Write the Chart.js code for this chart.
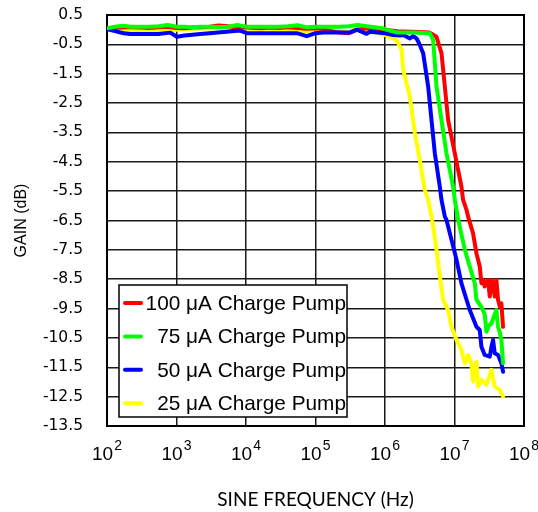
<!DOCTYPE html>
<html>
<head>
<meta charset="utf-8">
<script src="https://cdn.jsdelivr.net/npm/chart.js@4.4.1/dist/chart.umd.min.js"></script>
<style>
html,body{margin:0;padding:0;background:#fff;}
#wrap{width:538px;height:512px;position:relative;}
</style>
</head>
<body>
<div id="wrap"><canvas id="c" width="538" height="512"></canvas></div>
<script>
// ---- data ----
const seriesLabels = ['100 \u03BCA Charge Pump', '75 \u03BCA Charge Pump', '50 \u03BCA Charge Pump', '25 \u03BCA Charge Pump'];
const seriesColors = ['#ff0000', '#00ff00', '#0000ff', '#ffff00'];

const xTickExponents = [2, 3, 4, 5, 6, 7, 8];
const yTickValues = [0.5, -0.5, -1.5, -2.5, -3.5, -4.5, -5.5, -6.5, -7.5, -8.5, -9.5, -10.5, -11.5, -12.5, -13.5];

const freq100 = [100,130,170,220,300,400,550,750,1000,1300,1700,2200,3000,4000,5500,7500,1e4,1.3e4,1.7e4,2.2e4,3e4,4e4,5.5e4,7.5e4,1e5,1.3e5,1.7e5,2.2e5,3e5,4e5,5.5e5,
  8e5,1.5e6,3e6,4.4e6,5.5e6,6.5e6,7.26e6,8.1e6,1.01e7,1.26e7,1.33e7,1.49e7,1.57e7,1.85e7,2.07e7,2.31e7,2.44e7,2.58e7,2.72e7,2.88e7,3.04e7,3.22e7,3.4e7,3.59e7,3.79e7,4.01e7,4.23e7,4.48e7,4.73e7,4.99e7];
const gain100 = [0.02,0.06,0.08,0.08,0.07,0.06,0.08,0.1,0.06,0.05,0.07,0.08,0.1,0.14,0.12,0.06,0.08,0.06,0.05,0.07,0.06,0.08,0.06,0.03,0.05,0.02,-0.05,-0.1,-0.12,0.0,0.05,
  0.02,-0.05,-0.08,-0.1,-0.24,-0.8,-1.94,-3.08,-4.21,-5.35,-5.8,-6.14,-6.37,-6.94,-7.62,-8.07,-8.64,-8.53,-8.75,-8.6,-8.53,-9.09,-8.53,-8.6,-9.09,-8.53,-9.2,-9.44,-9.32,-10.12];

const freq75 = [100,130,170,220,300,400,550,750,1000,1300,1700,2200,3000,4000,5500,7500,1e4,1.3e4,1.7e4,2.2e4,3e4,4e4,5.5e4,7.5e4,1e5,1.3e5,1.7e5,2.2e5,3e5,4e5,5.5e5,
  9e5,1.5e6,2.5e6,4.4e6,4.93e6,5.51e6,6.5e6,7.67e6,9.55e6,1.01e7,1.13e7,1.41e7,1.66e7,1.96e7,2.07e7,2.44e7,2.72e7,2.88e7,3.1e7,3.4e7,3.79e7,4.01e7,4.23e7,4.48e7,4.73e7,4.99e7];
const gain75 = [0.05,0.1,0.13,0.1,0.1,0.1,0.12,0.16,0.1,0.1,0.08,0.1,0.1,0.09,0.1,0.16,0.1,0.1,0.1,0.1,0.1,0.12,0.15,0.08,0.1,0.1,0.1,0.1,0.12,0.16,0.12,
  0.05,-0.1,-0.1,-0.12,-0.35,-1.94,-3.08,-4.21,-5.35,-5.8,-6.48,-7.5,-8.07,-8.64,-9.2,-9.44,-9.7,-10.29,-10.1,-10.0,-9.7,-9.55,-10.12,-10.3,-10.57,-11.36];

const freq50 = [100,130,174,216,300,400,550,813,1014,1300,1700,2200,3000,4730,8220,1.03e4,1.5e4,2.2e4,3.5e4,5.37e4,7.48e4,1e5,1.3e5,2e5,3.13e5,3.91e5,5.44e5,6.07e5,
  1e6,1.31e6,1.64e6,1.83e6,2.05e6,2.28e6,2.54e6,2.85e6,3.17e6,3.54e6,4.18e6,4.67e6,5.21e6,6.15e6,6.5e6,7.26e6,7.67e6,9.06e6,1.07e7,1.26e7,1.49e7,1.66e7,2.07e7,2.31e7,2.44e7,2.72e7,3.22e7,3.4e7,3.59e7,3.79e7,4.23e7,4.73e7,4.99e7];
const gain50 = [0.02,-0.05,-0.12,-0.15,-0.15,-0.15,-0.15,-0.1,-0.24,-0.2,-0.17,-0.15,-0.12,-0.08,-0.03,-0.12,-0.12,-0.12,-0.12,-0.12,-0.22,-0.12,-0.1,-0.1,-0.1,0.0,-0.14,-0.07,
  -0.12,-0.18,-0.2,-0.18,-0.24,-0.3,-0.22,-0.3,-0.52,-0.8,-1.94,-3.08,-4.21,-5.35,-5.8,-6.37,-6.48,-7.16,-7.84,-8.64,-9.2,-9.55,-10.12,-10.23,-10.8,-11.08,-11.14,-10.8,-10.57,-11.02,-11.08,-11.36,-11.65];

const freq25 = [100,130,170,220,300,400,550,750,1000,1300,1700,2200,3000,4000,5500,7500,1e4,1.3e4,1.7e4,2.2e4,3e4,4e4,5.5e4,7.5e4,1e5,1.3e5,1.7e5,2.2e5,3e5,4e5,5.5e5,
  1e6,1.47e6,1.73e6,1.83e6,2.28e6,2.69e6,3.17e6,3.74e6,4.18e6,4.67e6,4.93e6,5.51e6,6.15e6,6.86e6,8.1e6,9.06e6,1.07e7,1.26e7,1.41e7,1.57e7,1.75e7,1.85e7,2.07e7,2.18e7,2.44e7,2.88e7,3.4e7,3.79e7,4.48e7,4.99e7];
const gain25 = [0.02,0.0,-0.02,-0.03,-0.03,-0.03,-0.02,-0.02,0.0,0.02,0.03,0.04,0.05,0.05,0.04,0.05,0.03,0.03,0.03,0.03,0.0,-0.02,-0.05,-0.05,0.0,0.0,-0.02,-0.05,-0.05,0.02,-0.01,
  -0.18,-0.35,-0.69,-1.37,-2.28,-3.53,-4.44,-5.46,-5.8,-6.37,-6.71,-7.5,-8.41,-9.2,-9.55,-10.12,-10.57,-10.91,-11.36,-11.08,-11.36,-11.99,-11.31,-12.16,-11.93,-12.1,-11.59,-12.16,-12.27,-12.49];

// ---- build ----
function toPoints(fs, gs) { return fs.map((f, i) => ({ x: f, y: gs[i] })); }
const seriesFreqs = [freq100, freq75, freq50, freq25];
const seriesGains = [gain100, gain75, gain50, gain25];
const drawOrder = [2, 0, 1, 3];

const datasets = seriesLabels.map((lab, i) => ({
  label: lab,
  data: toPoints(seriesFreqs[i], seriesGains[i]),
  borderColor: seriesColors[i],
  backgroundColor: seriesColors[i],
  borderWidth: 4,
  pointRadius: 0,
  tension: 0,
  fill: false,
  borderJoinStyle: 'round',
  borderCapStyle: 'round',
  order: drawOrder[i]
}));

const customDraw = {
  id: 'customDraw',
  beforeDatasetsDraw(chart) {
    const { ctx, chartArea: a } = chart;
    ctx.save();
    ctx.strokeStyle = '#000';
    ctx.lineWidth = 2;
    ctx.strokeRect(a.left, a.top, a.right - a.left, a.bottom - a.top);
    ctx.restore();
  },
  afterDatasetsDraw(chart) {
    const { ctx, chartArea: a, scales } = chart;
    const xs = scales.x;
    ctx.save();
    // x tick labels with superscript exponents
    ctx.fillStyle = '#000';
    ctx.textAlign = 'left';
    ctx.textBaseline = 'alphabetic';
    xTickExponents.forEach(e => {
      const px = xs.getPixelForValue(Math.pow(10, e));
      ctx.font = '19px "Liberation Sans", Arial, sans-serif';
      const wb = ctx.measureText('10').width;
      ctx.font = '14px "Liberation Sans", Arial, sans-serif';
      const we = ctx.measureText(String(e)).width;
      const start = px - (wb + we + 1) / 2;
      ctx.font = '19px "Liberation Sans", Arial, sans-serif';
      ctx.fillText('10', start, a.bottom + 34);
      ctx.font = '14px "Liberation Sans", Arial, sans-serif';
      ctx.fillText(String(e), start + wb + 1, a.bottom + 24);
    });
    // legend box
    const bx = a.left + 12, by = a.bottom - 141, bw = 228, bh = 132;
    ctx.fillStyle = '#fff';
    ctx.fillRect(bx, by, bw, bh);
    ctx.strokeStyle = '#000';
    ctx.lineWidth = 1.5;
    ctx.strokeRect(bx, by, bw, bh);
    ctx.font = '20.8px "Liberation Sans", Arial, sans-serif';
    ctx.textAlign = 'right';
    ctx.textBaseline = 'middle';
    seriesLabels.forEach((lab, i) => {
      const cy = by + 18 + i * 33.4;
      ctx.strokeStyle = seriesColors[i];
      ctx.lineWidth = 4;
      ctx.lineCap = 'round';
      ctx.beginPath();
      ctx.moveTo(bx + 6, cy);
      ctx.lineTo(bx + 22, cy);
      ctx.stroke();
      ctx.fillStyle = '#000';
      ctx.fillText(lab, bx + 227, cy + 1);
    });
    ctx.restore();
  }
};

new Chart(document.getElementById('c'), {
  type: 'line',
  data: { datasets },
  options: {
    responsive: false,
    animation: false,
    layout: { padding: { top: 15, right: 14, left: 0, bottom: 0 } },
    plugins: { legend: { display: false }, tooltip: { enabled: false } },
    scales: {
      x: {
        type: 'logarithmic',
        min: 100,
        max: 1e8,
        afterBuildTicks: (s) => { s.ticks = xTickExponents.map(e => ({ value: Math.pow(10, e) })); },
        afterFit: (s) => { s.height = 86; },
        ticks: { display: false },
        grid: { color: '#1a1a1a', lineWidth: 1.5, drawTicks: false },
        border: { display: false },
        title: {
          display: true,
          text: 'SINE FREQUENCY (Hz)',
          color: '#000',
          font: { family: 'Lato', size: 19, weight: 'normal' },
          padding: { top: 0, bottom: 1 }
        }
      },
      y: {
        type: 'linear',
        min: -13.5,
        max: 0.5,
        afterBuildTicks: (s) => { s.ticks = yTickValues.map(v => ({ value: v })); },
        afterFit: (s) => { s.width = 107; },
        ticks: {
          color: '#000',
          padding: 2,
          font: { family: 'DejaVu Sans', size: 15.5 },
          callback: (v) => Number(v).toFixed(1)
        },
        grid: { color: '#1a1a1a', lineWidth: 1.5, drawTicks: true, tickLength: 22, tickColor: 'rgba(0,0,0,0)' },
        border: { display: false },
        title: {
          display: true,
          text: 'GAIN (dB)',
          color: '#000',
          font: { family: 'Liberation Sans', size: 16, weight: 'normal' },
          padding: { top: 12, bottom: 0 }
        }
      }
    }
  },
  plugins: [customDraw]
});
</script>
</body>
</html>
